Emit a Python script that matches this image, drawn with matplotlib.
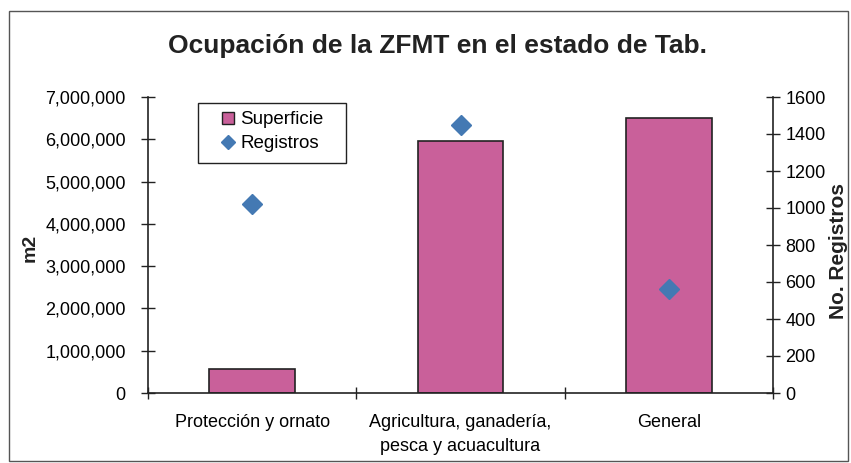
import numpy as np
import matplotlib
matplotlib.use("Agg")
import matplotlib.pyplot as plt
from matplotlib.lines import Line2D
from matplotlib.patches import Rectangle
from matplotlib.ticker import FuncFormatter

# Ocupación de la zona federal marítimo terrestre (ZFMT), Tabasco
categorias = ["Protección y ornato",
              "Agricultura, ganadería,\npesca y acuacultura",
              "General"]
superficie_m2 = [570000, 5950000, 6500000]
registros = [1020, 1450, 560]

COLOR_BARRA = "#C9609A"
COLOR_PUNTO = "#4479B3"
OSCURO = "#222222"

plt.rcParams["font.family"] = ["Liberation Sans", "DejaVu Sans"]

W, H = 851, 463
fig = plt.figure(figsize=(W / 100, H / 100), dpi=100)
fig.patch.set_facecolor("white")


def px(x, y):
    # pixeles (desde arriba a la izquierda) -> fracción de figura
    return x / W, 1 - y / H


# marco exterior del gráfico
fig.patches.append(Rectangle(px(9, 461), 839 / W, 450 / H,
                             transform=fig.transFigure, fill=False,
                             edgecolor="#555555", linewidth=1.0))

ax = fig.add_axes([148 / W, 1 - 393 / H, 625 / W, 296 / H])
ax2 = ax.twinx()

x = np.arange(len(categorias))
ax.bar(x, superficie_m2, width=0.41, color=COLOR_BARRA,
       edgecolor=OSCURO, linewidth=1.2, zorder=2)
ax2.plot(x, registros, linestyle="none", marker="D", markersize=10,
         color=COLOR_PUNTO, zorder=3)

ax.set_xlim(-0.5, 2.5)
ax.set_ylim(0, 7000000)
ax2.set_ylim(0, 1600)
ax.set_yticks(np.arange(0, 7000001, 1000000))
ax2.set_yticks(np.arange(0, 1601, 200))
ax.yaxis.set_major_formatter(FuncFormatter(lambda v, p: f"{int(v):,}"))

ax.set_xticks(x)
ax.set_xticklabels(categorias, fontsize=13, linespacing=1.55)
ax.set_xticks([-0.5, 0.5, 1.5, 2.5], minor=True)
ax.tick_params(axis="x", which="major", length=0, pad=15)
ax.tick_params(axis="x", which="minor", direction="inout", length=9,
               width=1.0, color=OSCURO)
ax.tick_params(axis="y", direction="inout", length=10, width=1.0,
               labelsize=13, pad=11, color=OSCURO)
ax2.tick_params(axis="y", direction="inout", length=10, width=1.0,
                labelsize=13, pad=4, color=OSCURO)

for a in (ax, ax2):
    a.spines["top"].set_visible(False)
    for s in ("left", "right", "bottom"):
        a.spines[s].set_color(OSCURO)
        a.spines[s].set_linewidth(1.2)
ax.spines["right"].set_visible(False)
ax2.spines["left"].set_visible(False)
ax2.spines["bottom"].set_visible(False)

# títulos de los ejes
fig.text(*px(30, 248), "m2", rotation=90, ha="center", va="center",
         fontsize=14, fontweight="bold", color=OSCURO)
fig.text(*px(839, 251), "No. Registros", rotation=90, ha="center",
         va="center", fontsize=15, fontweight="bold", color=OSCURO)

fig.text(*px(437, 46), "Ocupación de la ZFMT en el estado de Tab.",
         ha="center", va="center", fontsize=19, fontweight="bold",
         color=OSCURO)

# leyenda con marco propio (más ancho a la derecha)
handles = [
    Line2D([], [], linestyle="none", marker="s", markersize=9,
           markerfacecolor=COLOR_BARRA, markeredgecolor=OSCURO),
    Line2D([], [], linestyle="none", marker="D", markersize=7,
           color=COLOR_PUNTO),
]
fig.legend(handles, ["Superficie", "Registros"], loc="upper left",
           bbox_to_anchor=px(220.5, 111), bbox_transform=fig.transFigure,
           fontsize=13.5, frameon=False, handlelength=0.8,
           handletextpad=0.25, borderpad=0, labelspacing=0.38,
           borderaxespad=0)
fig.patches.append(Rectangle(px(198, 163), 148 / W, 60 / H,
                             transform=fig.transFigure, fill=False,
                             edgecolor=OSCURO, linewidth=1.0))

fig.savefig("out.png", dpi=100)
